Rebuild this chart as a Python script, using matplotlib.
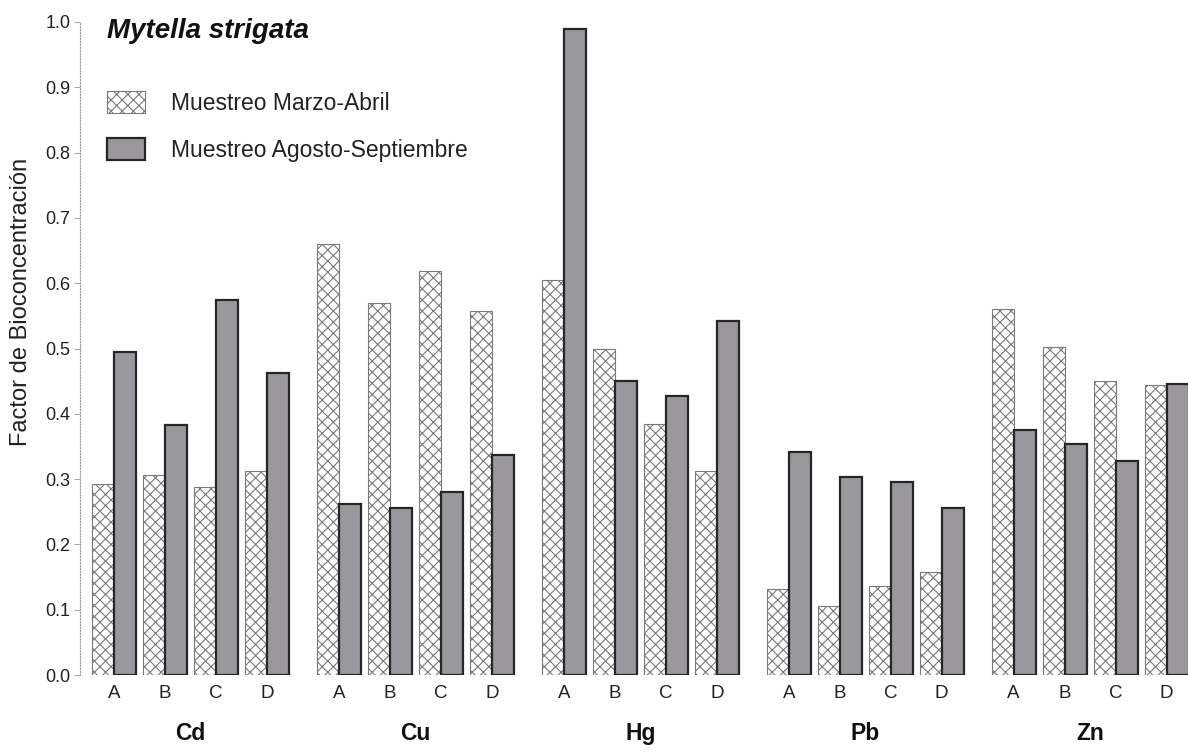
import matplotlib
matplotlib.use("Agg")
import matplotlib.pyplot as plt
import numpy as np

plt.rcParams['font.family'] = ['Liberation Sans', 'DejaVu Sans']
plt.rcParams['hatch.color'] = '#c8c8c8'
plt.rcParams['hatch.linewidth'] = 0.8

metals = ["Cd", "Cu", "Hg", "Pb", "Zn"]
sites = ["A", "B", "C", "D"]
marzo_abril = [
    [0.293, 0.307, 0.288, 0.312],   # Cd
    [0.660, 0.570, 0.618, 0.557],   # Cu
    [0.605, 0.500, 0.385, 0.312],   # Hg
    [0.132, 0.105, 0.136, 0.157],   # Pb
    [0.561, 0.503, 0.450, 0.444],   # Zn
]
agosto_sept = [
    [0.495, 0.383, 0.575, 0.463],
    [0.262, 0.255, 0.280, 0.337],
    [0.990, 0.450, 0.427, 0.542],
    [0.342, 0.303, 0.295, 0.255],
    [0.375, 0.353, 0.327, 0.446],
]
series_labels = ["Muestreo Marzo-Abril", "Muestreo Agosto-Septiembre"]
title = "Mytella strigata"
ylabel = "Factor de Bioconcentración"

fig = plt.figure(figsize=(11.88, 7.53), dpi=100)
ax = fig.add_axes([80/1188, 1-675/753, 1-80/1188, (675-22)/753])

gpitch = 4.41
w = 0.43
xs, ticklabels, gcenters = [], [], []
for g, m in enumerate(metals):
    base = g * gpitch
    for s, site in enumerate(sites):
        x = base + s
        xs.append(x)
        ticklabels.append(site)
        ax.bar(x - w/2, marzo_abril[g][s], width=w, facecolor='white',
               edgecolor='#7a7a7a', linewidth=0.8, hatch='xxx', zorder=2,
               label=series_labels[0] if (g == 0 and s == 0) else None)
        ax.bar(x + w/2, agosto_sept[g][s], width=w, facecolor='#9a989c',
               edgecolor='#262626', linewidth=1.6, zorder=3,
               label=series_labels[1] if (g == 0 and s == 0) else None)
    gcenters.append(base + 1.5)

ax.set_xlim((80-114)/51, (1188-114)/51)
ax.set_ylim(0, 1.0)
ax.set_yticks(np.arange(0, 1.01, 0.1))
ax.set_yticklabels([f"{v:.1f}" for v in np.arange(0, 1.01, 0.1)])
ax.set_xticks(xs)
ax.set_xticklabels(ticklabels)
ax.tick_params(axis='x', length=0, pad=7, labelsize=13.5, colors='#222222')
ax.tick_params(axis='y', length=4, width=0.6, color='#999999', labelsize=13,
               labelcolor='#222222', pad=3)
for sp in ['top', 'right', 'bottom']:
    ax.spines[sp].set_visible(False)
ax.spines['left'].set_color('#999999')
ax.spines['left'].set_linestyle(':')
ax.spines['left'].set_linewidth(0.8)

for g, m in enumerate(metals):
    ax.text(gcenters[g], -0.09, m, transform=ax.transData, ha='center',
            va='center', fontsize=16.5, fontweight='bold', color='#111111')

ax.set_ylabel(ylabel, fontsize=17, color='#222222')
ax.yaxis.set_label_coords((32-80)/1108, (675-302)/653)
fig.text(107/1188, 1-31/753, title, fontsize=20, fontweight='bold',
         fontstyle='italic', ha='left', va='center', color='#111111')

leg = ax.legend(loc='upper left', bbox_to_anchor=((107-80)/1108, (675-91)/653),
                frameon=False, fontsize=16.5, handlelength=1.66, handleheight=1.13,
                handletextpad=1.15, labelspacing=1.0, borderaxespad=0, borderpad=0)
for t in leg.get_texts():
    t.set_color('#222222')

fig.savefig("out.png", dpi=100)
